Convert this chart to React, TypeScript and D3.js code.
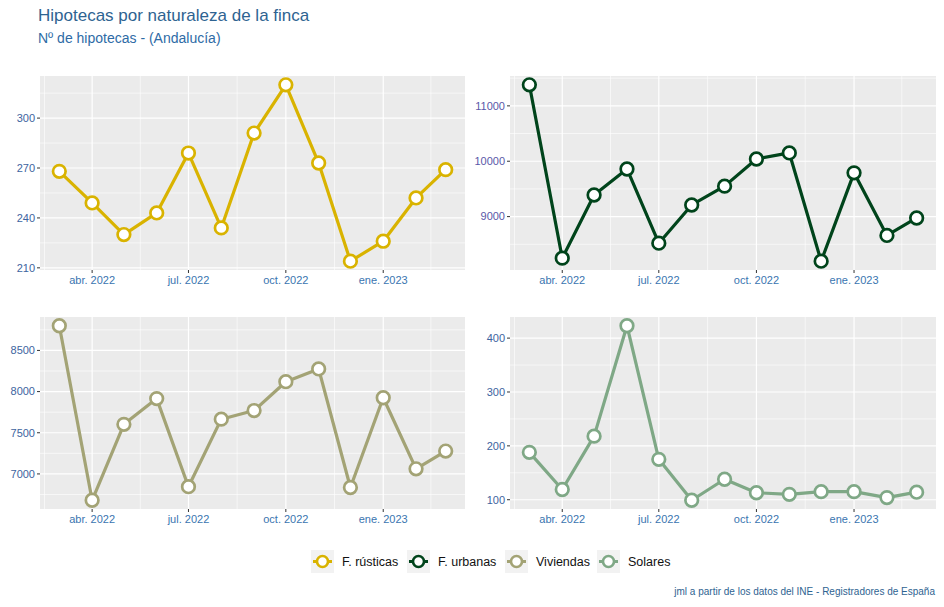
import React from "react";
import * as d3 from "d3";

const months = ["2022-03","2022-04","2022-05","2022-06","2022-07","2022-08","2022-09","2022-10","2022-11","2022-12","2023-01","2023-02","2023-03"];
const rusticas = [268, 249, 230, 243, 279, 234, 291, 320, 273, 214, 226, 252, 269];
const urbanas = [11380, 8250, 9390, 9860, 8520, 9210, 9550, 10040, 10150, 8195, 9790, 8660, 8975];
const viviendas = [8800, 6680, 7602, 7915, 6845, 7665, 7770, 8120, 8275, 6835, 7925, 7062, 7278];
const solares = [188, 119, 218, 423, 175, 99, 138, 113, 110, 115, 115, 104, 114];

const seriesNames = ["F. rústicas", "F. urbanas", "Viviendas", "Solares"];
const seriesColors = ["#D9B300", "#00441B", "#A3A375", "#7FA886"];
const xTickDates = ["2022-04", "2022-07", "2022-10", "2023-01"];
const xTickLabels = ["abr. 2022", "jul. 2022", "oct. 2022", "ene. 2023"];
const yTicksR = [210, 240, 270, 300];
const yTicksU = [9000, 10000, 11000];
const yTicksV = [7000, 7500, 8000, 8500];
const yTicksS = [100, 200, 300, 400];

const parse = d3.timeParse("%Y-%m");
const FONT = "'Liberation Sans', Arial, sans-serif";

type PanelProps = {
  x0: number; x1: number; y0: number; y1: number;
  values: number[]; color: string; yTicks: number[]; yLabelColor: string;
};

function Panel({ x0, x1, y0, y1, values, color, yTicks, yLabelColor }: PanelProps) {
  const dates = months.map((m) => parse(m) as Date);
  const tMin = dates[0].getTime();
  const tMax = dates[dates.length - 1].getTime();
  const tPad = (tMax - tMin) * 0.05;
  const x = d3.scaleTime().domain([new Date(tMin - tPad), new Date(tMax + tPad)]).range([x0, x1]);
  const vMin = d3.min(values) as number;
  const vMax = d3.max(values) as number;
  const vPad = (vMax - vMin) * 0.05;
  const yDom: [number, number] = [vMin - vPad, vMax + vPad];
  const y = d3.scaleLinear().domain(yDom).range([y1, y0]);

  const majorX = xTickDates.map((d) => parse(d) as Date);
  const allMaj = [d3.timeMonth.offset(majorX[0], -3), ...majorX, d3.timeMonth.offset(majorX[majorX.length - 1], 3)];
  const minorX: Date[] = [];
  for (let i = 0; i < allMaj.length - 1; i++) {
    const m = new Date((allMaj[i].getTime() + allMaj[i + 1].getTime()) / 2);
    if (m >= x.domain()[0] && m <= x.domain()[1]) minorX.push(m);
  }
  const step = yTicks[1] - yTicks[0];
  const minorY: number[] = [];
  for (let v = yTicks[0] - step * 1.5; v <= yTicks[yTicks.length - 1] + step * 1.5; v += step) {
    if (v >= yDom[0] && v <= yDom[1]) minorY.push(v);
  }
  const line = d3.line<number>().x((_, i) => x(dates[i])).y((v) => y(v));

  return (
    <g>
      <rect x={x0} y={y0} width={x1 - x0} height={y1 - y0} fill="#EBEBEB" />
      {minorY.map((v, i) => (
        <line key={"my" + i} x1={x0} x2={x1} y1={y(v)} y2={y(v)} stroke="#fff" strokeWidth={0.6} />
      ))}
      {minorX.map((d, i) => (
        <line key={"mx" + i} x1={x(d)} x2={x(d)} y1={y0} y2={y1} stroke="#fff" strokeWidth={0.6} />
      ))}
      {yTicks.map((v, i) => (
        <line key={"gy" + i} x1={x0} x2={x1} y1={y(v)} y2={y(v)} stroke="#fff" strokeWidth={1.2} />
      ))}
      {majorX.map((d, i) => (
        <line key={"gx" + i} x1={x(d)} x2={x(d)} y1={y0} y2={y1} stroke="#fff" strokeWidth={1.2} />
      ))}
      {yTicks.map((v, i) => (
        <g key={"ty" + i}>
          <line x1={x0 - 3} x2={x0} y1={y(v)} y2={y(v)} stroke="#333" strokeWidth={1} />
          <text x={x0 - 5} y={y(v)} dy="0.35em" textAnchor="end" fontSize={11} fill={yLabelColor} fontFamily={FONT}>{v}</text>
        </g>
      ))}
      {majorX.map((d, i) => (
        <g key={"tx" + i}>
          <line x1={x(d)} x2={x(d)} y1={y1} y2={y1 + 3} stroke="#333" strokeWidth={1} />
          <text x={x(d)} y={y1 + 13.5} textAnchor="middle" fontSize={11} fill="#3A75B0" fontFamily={FONT}>{xTickLabels[i]}</text>
        </g>
      ))}
      <path d={line(values) || ""} fill="none" stroke={color} strokeWidth={3.2} strokeLinejoin="round" />
      {values.map((v, i) => (
        <circle key={"p" + i} cx={x(dates[i])} cy={y(v)} r={6.3} fill="#fff" stroke={color} strokeWidth={2.7} />
      ))}
    </g>
  );
}

const legendKeyX = [311, 407, 505, 597];

export default function App() {
  return (
    <svg width={944} height={607} style={{ display: "block", position: "absolute", left: 0, top: 0 }} fontFamily={FONT}>
      <rect width={944} height={607} fill="#fff" />
      <text x={38} y={21} fontSize={17} fill="#2E6391">Hipotecas por naturaleza de la finca</text>
      <text x={38} y={43} fontSize={14} fill="#2E6BA6">Nº de hipotecas - (Andalucía)</text>
      <Panel x0={40} x1={465} y0={76} y1={270} values={rusticas} color={seriesColors[0]} yTicks={yTicksR} yLabelColor="#3D64A0" />
      <Panel x0={510} x1={936} y0={76} y1={270} values={urbanas} color={seriesColors[1]} yTicks={yTicksU} yLabelColor="#5A58A8" />
      <Panel x0={40} x1={465} y0={317} y1={509} values={viviendas} color={seriesColors[2]} yTicks={yTicksV} yLabelColor="#3D64A0" />
      <Panel x0={510} x1={936} y0={317} y1={509} values={solares} color={seriesColors[3]} yTicks={yTicksS} yLabelColor="#3D64A0" />
      {seriesNames.map((name, i) => (
        <g key={"lg" + i}>
          <rect x={legendKeyX[i]} y={550} width={23} height={23} fill="#F2F2F2" />
          <line x1={legendKeyX[i] + 2} x2={legendKeyX[i] + 21} y1={561.5} y2={561.5} stroke={seriesColors[i]} strokeWidth={3} />
          <circle cx={legendKeyX[i] + 11.5} cy={561.5} r={5.5} fill="#fff" stroke={seriesColors[i]} strokeWidth={2.6} />
          <text x={legendKeyX[i] + 31} y={561.5} dy="0.35em" fontSize={12.5} fill="#111">{name}</text>
        </g>
      ))}
      <text x={935} y={595} textAnchor="end" fontSize={10} fill="#2E6391">jml a partir de los datos del INE - Registradores de España</text>
    </svg>
  );
}
